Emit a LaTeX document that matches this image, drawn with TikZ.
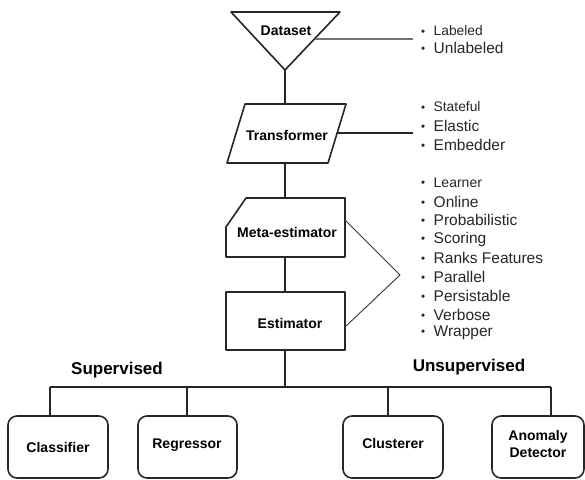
\documentclass[tikz,border=0pt]{standalone}
\usepackage{fontspec}
\setmainfont{Liberation Sans}
\newcommand{\bul}{\makebox[12.5pt][l]{\raisebox{0.8pt}{\fontsize{11.5}{11}\selectfont\textbullet}}}
\begin{document}
\begin{tikzpicture}[x=1pt,y=-1pt, line join=round,
  shp/.style={draw=black!85, line width=1.6pt},
  link/.style={draw=black!85, line width=1.6pt},
  grayline/.style={draw=black!55, line width=1.3pt},
  thinline/.style={draw=black!80, line width=0.9pt},
  lbl/.style={font=\bfseries\fontsize{14}{16}\selectfont, inner sep=0pt, align=center},
  grp/.style={font=\bfseries\fontsize{17}{20}\selectfont, inner sep=0pt},
  item/.style={anchor=west, inner sep=0pt, text=black!85, font=\fontsize{15.5}{18}\selectfont},
  itemsm/.style={item, font=\fontsize{13.8}{16}\selectfont},
  leaf/.style={draw=black!85, line width=1.6pt, rounded corners=9pt},
]
\useasboundingbox (0,0) rectangle (585,479);

% Dataset
\coordinate (dsA) at (231,12);
\coordinate (dsB) at (340,12);
\coordinate (dsC) at (285,70);
\draw[shp] (dsA) -- (dsB) -- (dsC) -- cycle;
\node[lbl] (ds) at (286,31) {Dataset};
\coordinate (dsE) at (314.5,39);
\coordinate (dsL) at (413,39);
\draw[grayline] (dsE) -- (dsL);
\node[itemsm] (i1) at (421,31) {\bul Labeled};
\node[item] (i2) at (421,48) {\bul Unlabeled};

% Transformer
\coordinate (trA) at (245,104);
\coordinate (trB) at (346,104);
\coordinate (trC) at (328,163);
\coordinate (trD) at (227,163);
\draw[shp] (trA) -- (trB) -- (trC) -- (trD) -- cycle;
\node[lbl] (tr) at (287,135) {Transformer};
\coordinate (trT) at (285,104);
\coordinate (trBot) at (285,163);
\coordinate (trE) at (337,133);
\coordinate (trL) at (413,133);
\draw[link, line width=1.2pt] (trE) -- (trL);
\draw[link] (dsC) -- (trT);
\node[itemsm] (t1) at (421,107) {\bul Stateful};
\node[item] (t2) at (421,126) {\bul Elastic};
\node[item] (t3) at (421,145) {\bul Embedder};

% Meta-estimator
\coordinate (meA) at (246,198);
\coordinate (meB) at (345,198);
\coordinate (meC) at (345,257);
\coordinate (meD) at (226,257);
\coordinate (meE) at (226,227);
\draw[shp] (meA) -- (meB) -- (meC) -- (meD) -- (meE) -- cycle;
\node[lbl] (me) at (287,232) {Meta-estimator};
\coordinate (meT) at (285,198);
\coordinate (meBot) at (285,257);
\draw[link] (trBot) -- (meT);

% Estimator
\coordinate (esA) at (226,292);
\coordinate (esB) at (345,350);
\draw[shp] (esA) rectangle (esB);
\node[lbl] (es) at (290,323) {Estimator};
\coordinate (esT) at (285,292);
\coordinate (esBot) at (285,350);
\draw[link] (meBot) -- (esT);

% brace lines
\coordinate (br1) at (345,220);
\coordinate (br2) at (400,275);
\coordinate (br3) at (345,327);
\draw[thinline] (br1) -- (br2) -- (br3);

\node[item, font=\fontsize{14}{16}\selectfont] (e1) at (421,183) {\bul Learner};
\node[item] (e2) at (421,201.5) {\bul Online};
\node[item] (e3) at (421,220) {\bul Probabilistic};
\node[item] (e4) at (421,239) {\bul Scoring};
\node[item] (e5) at (421,257.5) {\bul Ranks Features};
\node[item] (e6) at (421,277) {\bul Parallel};
\node[item] (e7) at (421,296) {\bul Persistable};
\node[item] (e8) at (421,314.5) {\bul Verbose};
\node[item] (e9) at (421,333) {\bul Wrapper};

% bus
\coordinate (bus) at (285,387);
\coordinate (busL) at (50,387);
\coordinate (busR) at (551,387);
\coordinate (b2) at (187,387);
\coordinate (b3) at (388,387);
\draw[link] (esBot) -- (bus);
\draw[link] (busL) -- (busR);

\node[grp] (sup) at (117,370) {Supervised};
\node[grp] (uns) at (469,367) {Unsupervised};

% leaves
\draw[leaf] (8,416) rectangle (108,478);
\draw[leaf] (138,416) rectangle (237,478);
\draw[leaf] (343,416) rectangle (443,478);
\draw[leaf] (492,416) rectangle (584,478);
\coordinate (c1) at (50,416);
\coordinate (c2) at (187,416);
\coordinate (c3) at (388,416);
\coordinate (c4) at (551,416);
\draw[link] (busL) -- (c1);
\draw[link] (b2) -- (c2);
\draw[link] (b3) -- (c3);
\draw[link] (busR) -- (c4);
\node[lbl] (cl) at (58,447) {Classifier};
\node[lbl] (rg) at (187,445) {Regressor};
\node[lbl] (cu) at (393,443) {Clusterer};
\node[lbl, font=\bfseries\fontsize{14}{17}\selectfont] (an) at (538,444) {Anomaly\\Detector};
\end{tikzpicture}
\end{document}
